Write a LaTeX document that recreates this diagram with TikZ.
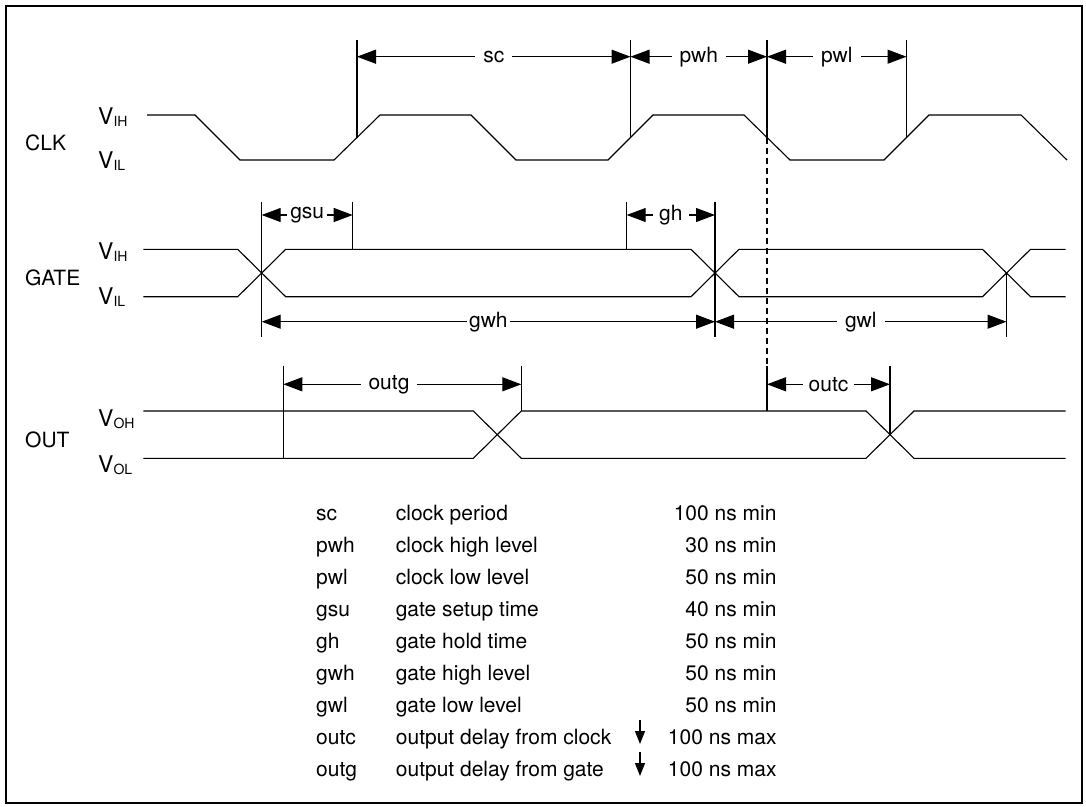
\documentclass[tikz,border=0pt]{standalone}
\usepackage{fontspec}
\setmainfont{TeX Gyre Heros}
\usetikzlibrary{arrows.meta}
\newcommand\dfont{\fontsize{21}{25}\selectfont}
\newcommand\vlab[2]{{\fontsize{23}{25}\selectfont V}\raisebox{-2.5pt}{\fontsize{14}{14}\selectfont #2}}
\begin{document}
\begin{tikzpicture}[x=1pt,y=-1pt,
  wave/.style={line width=1.1pt, line join=miter},
  tick/.style={line width=1.1pt},
  dimline/.style={line width=1.1pt, {Triangle[length=19pt,width=14pt]}-{Triangle[length=19pt,width=14pt]}},
  lbl/.style={fill=white, inner xsep=8pt, inner ysep=1pt, font=\dfont},
  sig/.style={anchor=west, inner sep=0pt, font=\dfont},
  lev/.style={anchor=base west, inner sep=0pt},
  tcell/.style={anchor=base west, inner sep=0pt, font=\dfont},
  tval/.style={anchor=base east, inner sep=0pt, font=\dfont},
  downarr/.style={line width=1.1pt, -{Triangle[length=13pt,width=10pt]}}
]
\useasboundingbox (0,0) rectangle (1086,806);
\draw[line width=2pt] (6,6) rectangle (1082,803);

% signal names and levels
\node[sig] (clk) at (25,143) {CLK};
\node[sig] (gate) at (25,278) {GATE};
\node[sig] (out) at (25,440) {OUT};
\node[lev] (clkh) at (98,124) {\vlab{V}{IH}};
\node[lev] (clkl) at (98,168) {\vlab{V}{IL}};
\node[lev] (gath) at (98,259) {\vlab{V}{IH}};
\node[lev] (gatl) at (98,304) {\vlab{V}{IL}};
\node[lev] (outh) at (98,426) {\vlab{V}{OH}};
\node[lev] (outl) at (98,472) {\vlab{V}{OL}};

% CLK waveform
\draw[wave] (147,115) -- (195,115) -- (240,160) -- (334,160) -- (380,115) -- (471,115)
  -- (516,160) -- (608,160) -- (653,115) -- (744,115) -- (790,160) -- (884,160)
  -- (929,115) -- (1021,115) -- (1067,160);

% GATE waveform
\draw[wave] (143.3,249.3) -- (237.7,249.3) -- (285.7,296.7) -- (691,296.7) -- (739,249.3)
  -- (982.5,249.3) -- (1030.5,296.7) -- (1065.7,296.7);
\draw[wave] (143.3,296.7) -- (237.7,296.7) -- (285.7,249.3) -- (691,249.3) -- (739,296.7)
  -- (982.5,296.7) -- (1030.5,249.3) -- (1065.7,249.3);

% OUT waveform
\draw[wave] (143.3,411) -- (473.3,411) -- (521.3,458.3) -- (866,458.3) -- (914,411) -- (1065.7,411);
\draw[wave] (143.3,458.3) -- (473.3,458.3) -- (521.3,411) -- (866,411) -- (914,458.3) -- (1065.7,458.3);

% reference coordinates
\coordinate (scA) at (357,56.7);
\coordinate (scB) at (630.5,56.7);
\coordinate (pwB) at (767,56.7);
\coordinate (plB) at (906.5,56.7);
\coordinate (gsA) at (261.7,215);
\coordinate (gsB) at (352.7,215);
\coordinate (ghA) at (626.7,215);
\coordinate (ghB) at (715,215);
\coordinate (gwA) at (261.7,321.7);
\coordinate (gwB) at (715,321.7);
\coordinate (gwC) at (1006.5,321.7);
\coordinate (ogA) at (283.3,384.3);
\coordinate (ogB) at (521.3,384.3);
\coordinate (ocA) at (767,384.3);
\coordinate (ocB) at (890,384.3);

% extension lines
\draw[tick] (357,40) -- (357,137.5);
\draw[tick] (630.5,40) -- (630.5,137.5);
\draw[tick] (767,40) -- (767,137.5);
\draw[tick] (906.5,40) -- (906.5,137.5);
\draw[tick, dash pattern=on 6pt off 4pt] (767,137.5) -- (767,365.7);
\draw[tick] (767,365.7) -- (767,411);
\draw[tick] (261.7,201.7) -- (261.7,336.7);
\draw[tick] (352.7,201.7) -- (352.7,249.3);
\draw[tick] (626.7,201.7) -- (626.7,249.3);
\draw[tick] (715,201.7) -- (715,336.7);
\draw[tick] (1006.5,273) -- (1006.5,336.7);
\draw[tick] (283.3,365.7) -- (283.3,458.3);
\draw[tick] (521.3,365.7) -- (521.3,411);
\draw[tick] (890,365.7) -- (890,434.7);

% dimension lines
\draw[dimline] (scA) -- node[lbl] (sc) {sc} (scB);
\draw[dimline] (scB) -- node[lbl] (pwh) {pwh} (pwB);
\draw[dimline] (pwB) -- node[lbl] (pwl) {pwl} (plB);
\draw[dimline] (gsA) -- node[lbl, inner xsep=3pt] (gsu) {gsu} (gsB);
\draw[dimline] (ghA) -- node[lbl, inner xsep=6pt] (gh) {gh} (ghB);
\draw[dimline] (gwA) -- node[lbl, inner xsep=2pt] (gwh) {gwh} (gwB);
\draw[dimline] (gwB) -- node[lbl] (gwl) {gwl} (gwC);
\draw[dimline] (ogA) -- (ogB);
\node[lbl] (outg) at (389,384.3) {outg};
\draw[dimline] (ocA) -- node[lbl, inner xsep=6pt] (outc) {outc} (ocB);

% table
\foreach \ab/\de/\va [count=\i from 0] in {
  sc/clock period/100 ns min,
  pwh/clock high level/30 ns min,
  pwl/clock low level/50 ns min,
  gsu/gate setup time/40 ns min,
  gh/gate hold time/50 ns min,
  gwh/gate high level/50 ns min,
  gwl/gate low level/50 ns min,
  outc/output delay from clock/100 ns max,
  outg/output delay from gate/100 ns max} {
  \node[tcell] (ab\i) at (316,520.7+32*\i) {\ab};
  \node[tcell] (de\i) at (395.7,520.7+32*\i) {\de};
  \node[tval] (va\i) at (776.7,520.7+32*\i) {\va};
}
\coordinate (a1t) at (640,720);
\coordinate (a1b) at (640,744);
\coordinate (a2t) at (640,752);
\coordinate (a2b) at (640,776);
\draw[downarr] (a1t) -- (a1b);
\draw[downarr] (a2t) -- (a2b);
\end{tikzpicture}
\end{document}
